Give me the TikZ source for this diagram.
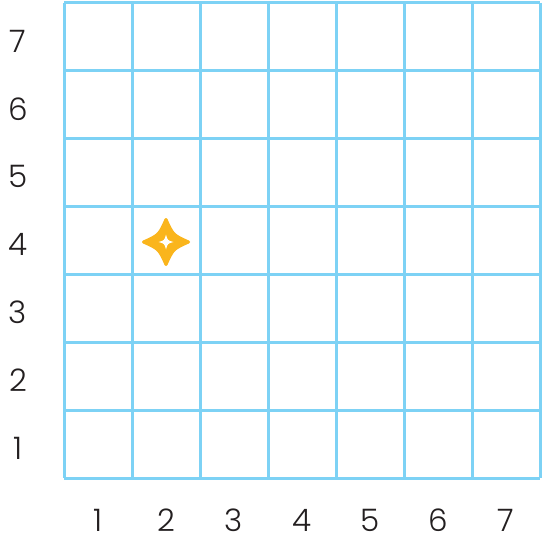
\documentclass[tikz,border=0pt]{standalone}
\usepackage{fontspec}
\usetikzlibrary{calc}
\IfFontExistsTF{Poppins Light}{\setmainfont{Poppins Light}}{\setmainfont{Poppins}}
\definecolor{gridblue}{HTML}{7DD2F5}
\definecolor{starorange}{HTML}{FAB51C}
\definecolor{labelgray}{HTML}{231F20}
\begin{document}
\begin{tikzpicture}[x=1pt,y=-1pt,
  gridline/.style={draw=gridblue,line width=3pt},
  axislabel/.style={text=labelgray,font=\fontsize{31}{33}\selectfont,inner sep=0pt,anchor=center}]
\useasboundingbox (0,0) rectangle (545,548);
\fill[white] (0,0) rectangle (545,548);
% grid
\foreach \i in {0,...,7}{
  \draw[gridline] (64+68*\i,3) -- (64+68*\i,478);
  \draw[gridline] (64,3+67.86*\i) -- (540,3+67.86*\i);
}
% labels
\foreach \n in {1,...,7}{
  \node[axislabel] (y\n) at (18,{3+67.86*(7-\n)+38}) {\n};
  \node[axislabel] (x\n) at ({64+68*(\n-1)+34},520) {\n};
}
% star
\coordinate (star) at (166,242);
\fill[starorange, draw=starorange, line width=3pt, line join=round]
  ($(star)+(0,-22.5)$) .. controls ($(star)+(7,-7)$) .. ($(star)+(22.5,0)$)
  .. controls ($(star)+(7,7)$) .. ($(star)+(0,22.5)$)
  .. controls ($(star)+(-7,7)$) .. ($(star)+(-22.5,0)$)
  .. controls ($(star)+(-7,-7)$) .. cycle;
\fill[white] ($(star)+(0,-7.5)$) .. controls ($(star)+(1.6,-1.6)$) .. ($(star)+(7.5,0)$)
  .. controls ($(star)+(1.6,1.6)$) .. ($(star)+(0,7.5)$)
  .. controls ($(star)+(-1.6,1.6)$) .. ($(star)+(-7.5,0)$)
  .. controls ($(star)+(-1.6,-1.6)$) .. cycle;
\end{tikzpicture}
\end{document}
